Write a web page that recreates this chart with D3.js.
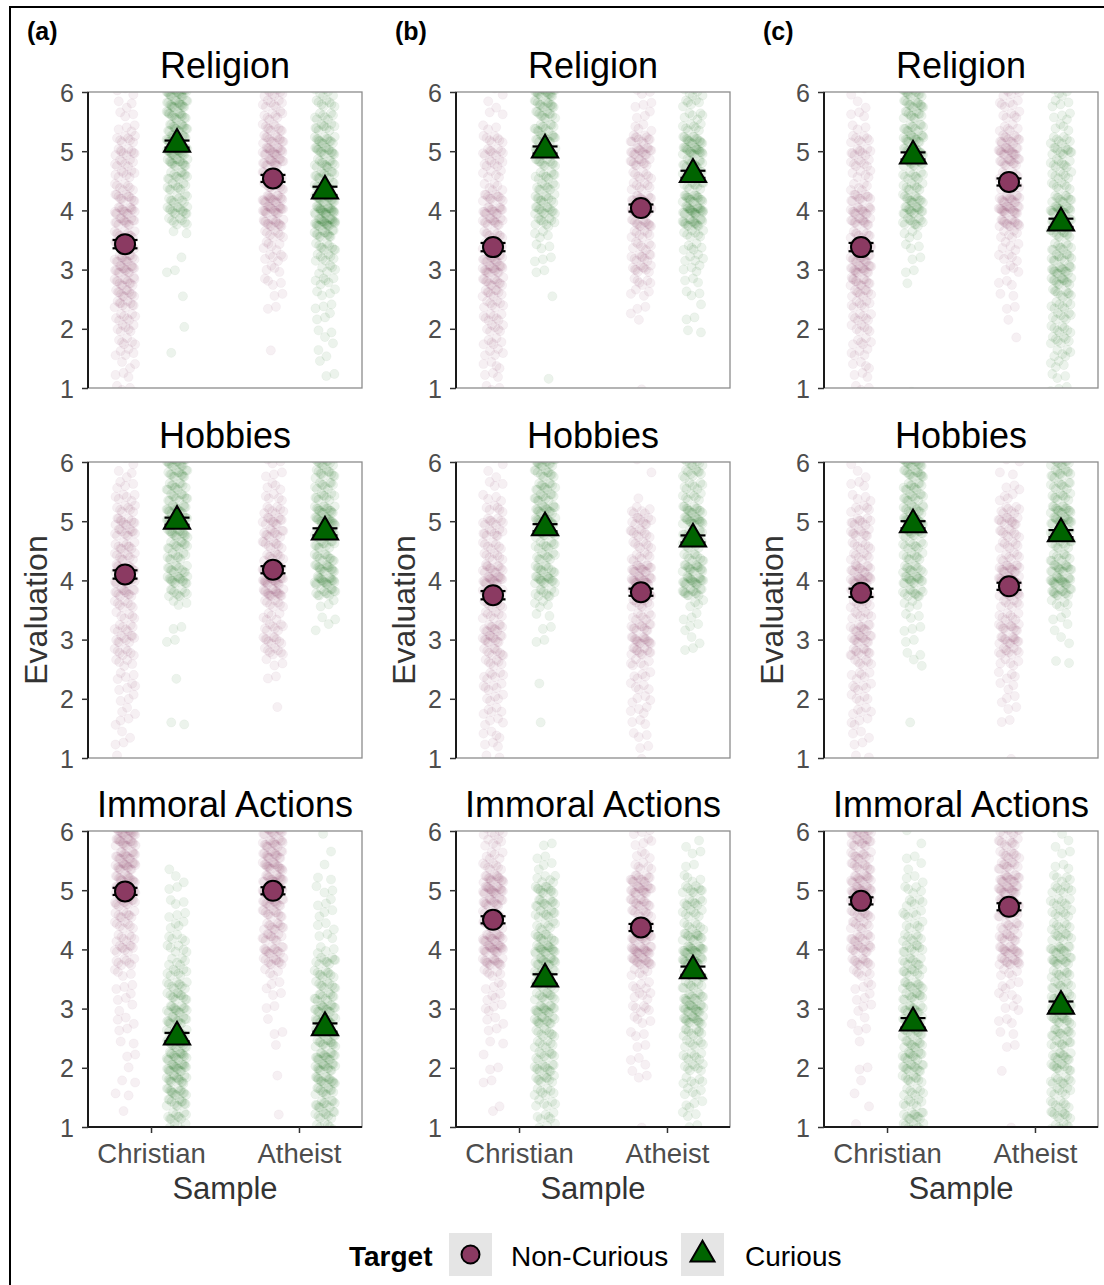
<!DOCTYPE html>
<html><head><meta charset="utf-8">
<script src="https://cdn.jsdelivr.net/npm/d3@7"></script>
<style>
body{margin:0;background:#fff;}
text{font-family:"Liberation Sans",Arial,sans-serif;}
</style></head>
<body><svg id="chart" width="1104" height="1285"></svg>
<script>
// ---------- data ----------
const studies = ["(a)", "(b)", "(c)"];
const domains = ["Religion", "Hobbies", "Immoral Actions"];
const samples = ["Christian", "Atheist"];
const targets = ["Non-Curious", "Curious"];
const yTicks = [1, 2, 3, 4, 5, 6];
// response levels used for the raw (jittered) responses
const levels = [1.0,1.2,1.4,1.6,1.8,2.0,2.2,2.4,2.6,2.8,3.0,3.2,3.4,3.6,3.8,4.0,4.2,4.4,4.6,4.8,5.0,5.2,5.4,5.6,5.8,6.0];

// group means, order: Christian/Non-Curious, Christian/Curious, Atheist/Non-Curious, Atheist/Curious
const meansA = [[3.43, 5.12, 4.54, 4.33], [4.10, 5.00, 4.18, 4.82], [4.98, 2.52, 4.99, 2.68]];
const meansB = [[3.38, 5.02, 4.04, 4.61], [3.75, 4.89, 3.80, 4.70], [4.50, 3.50, 4.37, 3.64]];
const meansC = [[3.38, 4.92, 4.48, 3.79], [3.79, 4.94, 3.90, 4.79], [4.82, 2.76, 4.72, 3.04]];
// standard errors (same order)
const seA = [[0.07, 0.06, 0.06, 0.07], [0.07, 0.06, 0.06, 0.06], [0.06, 0.07, 0.06, 0.07]];
const seB = [[0.07, 0.06, 0.06, 0.06], [0.07, 0.06, 0.06, 0.06], [0.06, 0.08, 0.06, 0.07]];
const seC = [[0.07, 0.06, 0.06, 0.07], [0.07, 0.06, 0.06, 0.06], [0.06, 0.08, 0.06, 0.08]];

// counts of raw responses per level (same group order), read from the point clouds
const distA_Religion = [
  [4,3,3,5,6,7,8,10,12,14,16,14,12,12,14,16,12,8,8,8,10,8,4,3,3,3],
  [0,0,0,1,0,1,0,0,1,0,2,1,0,2,8,14,10,10,12,16,22,18,16,16,18,20],
  [0,0,0,1,0,0,0,2,2,4,4,6,6,8,16,20,18,12,12,16,18,14,10,8,8,8],
  [0,2,1,2,2,2,3,3,4,6,6,8,10,14,24,24,18,12,12,14,16,14,10,8,8,6]];
const distA_Hobbies = [
  [1,2,2,3,3,3,4,4,5,8,10,8,6,8,14,18,14,10,10,12,12,8,6,4,3,2],
  [0,0,0,2,0,0,0,1,0,0,2,2,0,3,10,16,12,10,12,16,22,16,12,12,14,16],
  [0,0,0,0,1,0,0,2,3,8,10,8,6,8,18,22,16,10,10,12,12,8,5,4,3,3],
  [0,0,0,0,0,0,0,0,0,0,0,2,2,3,12,20,16,12,12,16,20,16,10,10,12,12]];
const distA_Immoral = [
  [0,1,0,2,2,1,2,2,2,3,2,3,3,4,8,10,8,8,10,14,22,16,18,16,18,18],
  [6,10,12,14,16,18,18,14,12,14,14,12,10,8,6,6,5,4,3,3,2,2,1,0,0,0],
  [0,1,0,0,1,0,0,1,2,1,2,2,3,4,12,14,12,12,12,16,22,18,18,16,16,16],
  [6,10,12,12,16,16,16,14,14,16,16,12,10,10,10,4,3,3,3,3,3,2,1,1,0,1]];
const distB_Religion = [
  [3,3,4,5,6,7,8,8,10,14,18,14,10,10,14,16,12,6,6,8,10,8,3,2,2,2],
  [0,1,0,0,0,0,0,0,1,0,2,3,3,4,10,14,12,10,10,12,18,14,12,12,14,18],
  [1,0,0,0,0,0,2,2,4,6,10,10,8,8,14,18,14,8,8,12,16,12,4,3,3,3],
  [0,0,0,0,0,2,2,1,3,3,4,5,6,8,18,24,18,10,10,14,20,16,8,6,6,6]];
const distB_Hobbies = [
  [2,3,4,4,5,5,6,7,7,10,14,12,8,8,14,18,14,8,8,10,10,6,4,3,2,2],
  [0,0,0,1,0,0,1,0,0,0,2,2,2,4,10,16,12,10,10,14,18,16,12,12,12,14],
  [1,2,3,3,4,4,5,5,6,12,16,12,8,10,16,20,16,8,8,10,10,6,1,0,1,1],
  [0,0,0,0,0,0,0,0,0,2,2,3,3,4,14,20,16,10,10,14,18,14,8,8,10,10]];
const distB_Immoral = [
  [0,1,1,0,2,2,1,2,2,3,4,4,4,6,16,20,18,10,10,16,20,16,8,6,6,6],
  [4,6,6,8,10,12,10,8,10,14,16,12,10,12,16,18,12,8,10,12,12,6,3,2,2,0],
  [1,0,0,0,2,2,2,2,3,4,6,5,5,6,16,20,16,10,10,14,18,14,6,4,4,4],
  [2,3,4,5,6,8,8,8,10,16,18,14,10,12,18,20,14,8,8,10,10,4,2,2,2,0]];
const distC_Religion = [
  [3,3,4,5,6,7,8,8,10,14,18,14,10,10,14,16,12,6,6,8,10,8,3,3,2,2],
  [1,0,0,0,0,0,0,0,0,1,2,2,3,4,12,16,14,10,10,14,16,16,12,12,14,14],
  [0,0,0,0,1,0,1,2,2,3,4,5,5,6,16,20,16,8,8,14,18,14,6,6,6,6],
  [3,3,4,6,8,8,8,8,10,14,16,12,10,12,16,18,12,8,8,10,12,8,4,4,4,4]];
const distC_Hobbies = [
  [2,2,3,4,5,5,6,6,7,12,14,12,8,8,14,18,14,8,8,10,10,6,4,3,2,2],
  [0,0,0,1,0,0,0,0,2,2,2,3,3,4,12,16,12,10,10,14,18,14,12,12,14,16],
  [1,0,0,2,2,3,3,4,5,10,14,12,8,8,14,20,16,8,8,10,12,8,4,3,2,2],
  [0,0,0,0,0,0,0,0,2,0,2,2,3,5,14,20,16,10,10,14,18,16,10,10,12,12]];
const distC_Immoral = [
  [1,0,1,1,1,2,0,1,2,2,3,3,4,6,12,14,12,10,12,14,18,16,12,12,14,14],
  [10,12,8,8,10,14,14,12,12,14,14,12,12,10,10,10,8,6,6,6,5,3,2,2,1,1],
  [1,0,0,0,0,1,0,2,2,3,3,4,4,5,14,16,12,10,12,16,18,16,12,10,10,10],
  [8,10,8,8,10,12,12,10,12,14,14,12,10,10,14,14,10,8,8,8,8,5,3,2,2,2]];

// ---------- assembly ----------
const meansByStudy = [meansA, meansB, meansC];
const seByStudy = [seA, seB, seC];
const distByStudy = [
  [distA_Religion, distA_Hobbies, distA_Immoral],
  [distB_Religion, distB_Hobbies, distB_Immoral],
  [distC_Religion, distC_Hobbies, distC_Immoral]];

const colors = {"Non-Curious": "#8B3A62", "Curious": "#006400"};

const svg = d3.select("#chart");
svg.append("rect").attr("width", 1104).attr("height", 1285).attr("fill", "#fff");
// outer frame
svg.append("path").attr("d", "M10,1290V7H1110").attr("fill", "none")
  .attr("stroke", "#000").attr("stroke-width", 2);

const colX = [88, 456, 824];
const rowY = [92, 462, 831];
const pw = 274, ph = 296;

const x = d3.scalePoint().domain(samples).range([0, pw]).padding(0.426);
const dodge = d3.scalePoint().domain(targets).range([-26, 26]);
const y = d3.scaleLinear().domain([1, 6]).range([ph, 0]);

const frac = v => v - Math.floor(v);
const triSym = d3.symbol().type(d3.symbolTriangle).size(300)();
const triSmall = d3.symbol().type(d3.symbolTriangle).size(250)();

studies.forEach((st, si) => {
  svg.append("text").attr("x", colX[si] - 61).attr("y", 40)
    .attr("font-size", 25).attr("font-weight", "bold").attr("fill", "#000").text(st);

  domains.forEach((dom, di) => {
    const g = svg.append("g").attr("transform", `translate(${colX[si]},${rowY[di]})`);
    const cid = `clip-${si}-${di}`;
    g.append("clipPath").attr("id", cid).append("rect")
      .attr("width", pw).attr("height", ph);

    // title
    g.append("text").attr("x", pw / 2).attr("y", -14).attr("text-anchor", "middle")
      .attr("font-size", 36).attr("fill", "#000").text(dom);

    // raw jittered responses
    const pts = g.append("g").attr("clip-path", `url(#${cid})`);
    const dist = distByStudy[si][di];
    samples.forEach((sm, smi) => {
      targets.forEach((tg, ti) => {
        const idx = smi * 2 + ti;
        const cx0 = x(sm) + dodge(tg);
        const data = [];
        dist[idx].forEach((n, li) => {
          for (let k = 0; k < n; k++) {
            const u = frac(0.5 + (k + 1) * 0.6180339887 + li * 0.311 + idx * 0.173 + si * 0.07);
            const v = frac((k + 1) * 0.7548776662 + li * 0.137 + idx * 0.291 + di * 0.05);
            data.push({xv: cx0 + (2 * u - 1) * 10.5, yv: levels[li] + (2 * v - 1) * 0.07});
          }
        });
        pts.selectAll(null).data(data).enter().append("circle")
          .attr("cx", d => d.xv).attr("cy", d => y(d.yv)).attr("r", 4.6)
          .attr("fill", colors[tg]).attr("fill-opacity", 0.075)
          .attr("stroke", colors[tg]).attr("stroke-opacity", 0.05).attr("stroke-width", 0.8);
      });
    });

    // panel border (grey) and axis lines
    g.append("rect").attr("width", pw).attr("height", ph).attr("fill", "none")
      .attr("stroke", "#8c8c8c").attr("stroke-width", 1.3);

    const yAxis = g.append("g").call(d3.axisLeft(y).tickValues(yTicks).tickSize(6).tickPadding(8).tickFormat(d3.format("d")));
    yAxis.select(".domain").attr("stroke", "#1a1a1a").attr("stroke-width", 2).attr("d", `M0,${ph}V0`);
    yAxis.selectAll(".tick line").attr("stroke", "#333").attr("stroke-width", 1.5);
    yAxis.selectAll(".tick text").attr("font-size", 25).attr("fill", "#4D4D4D")
      .attr("font-family", "Liberation Sans, Arial, sans-serif").attr("dy", "0.36em");

    if (di === 2) {
      const xAxis = g.append("g").attr("transform", `translate(0,${ph})`)
        .call(d3.axisBottom(x).tickSize(6).tickPadding(5));
      xAxis.select(".domain").attr("stroke", "#1a1a1a").attr("stroke-width", 2).attr("d", `M0,0H${pw}`);
      xAxis.selectAll(".tick line").attr("stroke", "#333").attr("stroke-width", 1.5);
      xAxis.selectAll(".tick text").attr("font-size", 27.5).attr("fill", "#4D4D4D")
        .attr("font-family", "Liberation Sans, Arial, sans-serif").attr("dy", "0.92em");
      g.append("text").attr("x", pw / 2).attr("y", ph + 72).attr("text-anchor", "middle")
        .attr("font-size", 31).attr("fill", "#333").text("Sample");
    }
    if (di === 1) {
      g.append("text").attr("transform", `translate(${-41},${ph / 2}) rotate(-90)`)
        .attr("text-anchor", "middle").attr("font-size", 32).attr("fill", "#333").text("Evaluation");
    }

    // means with error bars
    const means = meansByStudy[si][di], ses = seByStudy[si][di];
    samples.forEach((sm, smi) => {
      targets.forEach((tg, ti) => {
        const idx = smi * 2 + ti;
        const cx = x(sm) + dodge(tg), m = means[idx], se = ses[idx];
        const eb = g.append("g").attr("stroke", "#000").attr("stroke-width", 2.2);
        eb.append("line").attr("x1", cx - 12.5).attr("x2", cx + 12.5).attr("y1", y(m + se)).attr("y2", y(m + se));
        eb.append("line").attr("x1", cx - 12.5).attr("x2", cx + 12.5).attr("y1", y(m - se)).attr("y2", y(m - se));
        eb.append("line").attr("x1", cx).attr("x2", cx).attr("y1", y(m + se)).attr("y2", y(m - se));
        if (tg === "Non-Curious") {
          g.append("circle").attr("cx", cx).attr("cy", y(m)).attr("r", 10)
            .attr("fill", colors[tg]).attr("stroke", "#000").attr("stroke-width", 2);
        } else {
          g.append("path").attr("d", triSym).attr("transform", `translate(${cx},${y(m)})`)
            .attr("fill", colors[tg]).attr("stroke", "#000").attr("stroke-width", 2);
        }
      });
    });
  });
});

// legend
const lg = svg.append("g");
lg.append("text").attr("x", 349).attr("y", 1266).attr("font-size", 28).attr("font-weight", "bold")
  .attr("fill", "#000").text("Target");
const keyX = [449, 681], labX = [511, 745];
targets.forEach((tg, i) => {
  lg.append("rect").attr("x", keyX[i]).attr("y", 1233).attr("width", 43).attr("height", 43).attr("fill", "#E5E5E5");
  if (i === 0) {
    lg.append("circle").attr("cx", keyX[i] + 21.5).attr("cy", 1254.5).attr("r", 9)
      .attr("fill", colors[tg]).attr("stroke", "#000").attr("stroke-width", 2);
  } else {
    lg.append("path").attr("d", triSmall).attr("transform", `translate(${keyX[i] + 21.5},${1254.5})`)
      .attr("fill", colors[tg]).attr("stroke", "#000").attr("stroke-width", 2);
  }
  lg.append("text").attr("x", labX[i]).attr("y", 1266).attr("font-size", 28).attr("fill", "#000").text(tg);
});
</script></body></html>
